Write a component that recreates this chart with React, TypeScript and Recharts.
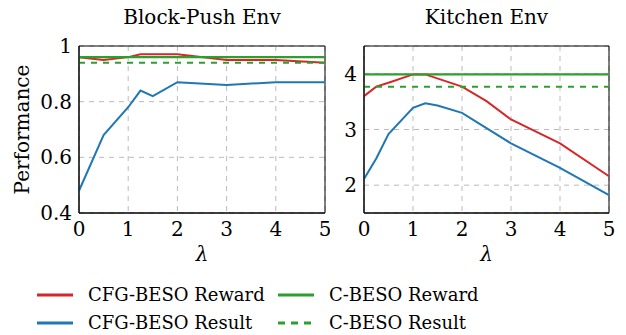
import React from "react";
import {
  LineChart,
  Line,
  XAxis,
  YAxis,
  CartesianGrid,
  ReferenceArea,
} from "recharts";

// Block-Push Env
const bpResultLambda = [0, 0.5, 1, 1.25, 1.5, 2, 3, 4, 5];
const bpResult = [0.48, 0.68, 0.78, 0.84, 0.82, 0.87, 0.86, 0.87, 0.87];
const bpRewardLambda = [0, 0.5, 1, 1.25, 2, 3, 4, 5];
const bpReward = [0.96, 0.95, 0.96, 0.97, 0.97, 0.95, 0.95, 0.94];
const bpBaseReward = 0.96;
const bpBaseResult = 0.94;

// Kitchen Env
const kRewardLambda = [0, 0.25, 0.5, 1, 1.25, 2, 2.5, 3, 4, 5];
const kReward = [3.6, 3.77, 3.84, 3.99, 3.99, 3.77, 3.51, 3.18, 2.75, 2.16];
const kResultLambda = [0, 0.25, 0.5, 1, 1.25, 1.5, 2, 3, 4, 5];
const kResult = [2.11, 2.48, 2.92, 3.39, 3.47, 3.43, 3.3, 2.75, 2.31, 1.82];
const kBaseReward = 3.99;
const kBaseResult = 3.77;

const xTicks = [0, 1, 2, 3, 4, 5];
const bpTicks = [0.4, 0.6, 0.8, 1];
const kTicks = [2, 3, 4];

const RED = "#d62728";
const BLUE = "#1f77b4";
const GREEN = "#2ca02c";
const FONT = "'DejaVu Serif', 'Liberation Serif', 'Times New Roman', Times, serif";
const FS = 20;
const LEGEND_FS = 18;

const zip = (xs: number[], ys: number[]) => xs.map((x, i) => ({ x, y: ys[i] }));
const flat = (v: number) => [
  { x: 0, y: v },
  { x: 5, y: v },
];

interface PanelProps {
  width: number;
  left: number;
  yAxisWidth: number;
  marginLeft: number;
  marginRight: number;
  domain: [number, number];
  ticks: number[];
  reward: { x: number; y: number }[];
  result: { x: number; y: number }[];
  baseReward: number;
  baseResult: number;
  yLabel?: string;
}

function Panel(p: PanelProps) {
  const tickStyle = { fontSize: FS, fill: "#000", fontFamily: FONT };
  return (
    <div style={{ position: "absolute", left: p.left, top: 0 }}>
      <LineChart
        width={p.width}
        height={275}
        margin={{ top: 46, right: p.marginRight, left: p.marginLeft, bottom: 12 }}
        style={{ fontFamily: FONT }}
      >
        <CartesianGrid stroke="#bbb" strokeDasharray="5 5" />
        <XAxis
          dataKey="x"
          type="number"
          domain={[0, 5]}
          ticks={xTicks}
          allowDuplicatedCategory={false}
          tickLine={false}
          tickSize={0}
          tickMargin={9}
          height={50}
          axisLine={{ stroke: "#000" }}
          tick={tickStyle}
          label={{
            value: "λ",
            position: "insideBottom",
            offset: 2,
            style: { fontSize: FS, fontStyle: "italic", fill: "#000", fontFamily: FONT },
          }}
        />
        <YAxis
          type="number"
          domain={p.domain}
          ticks={p.ticks}
          width={p.yAxisWidth}
          tickLine={false}
          tickSize={0}
          tickMargin={7}
          axisLine={{ stroke: "#000" }}
          tick={tickStyle}
          label={
            p.yLabel
              ? (props: any) => {
                  const vb = props.viewBox || {};
                  const cy = (vb.y || 0) + (vb.height || 0) / 2;
                  return (
                    <text
                      x={22}
                      y={cy}
                      transform={`rotate(-90, 22, ${cy})`}
                      textAnchor="middle"
                      dominantBaseline="central"
                      style={{ fontSize: FS, fill: "#000", fontFamily: FONT }}
                    >
                      {p.yLabel}
                    </text>
                  );
                }
              : undefined
          }
        />
        <ReferenceArea
          x1={0}
          x2={5}
          y1={p.domain[0]}
          y2={p.domain[1]}
          fill="none"
          stroke="#000"
          strokeWidth={1}
        />
        <Line data={p.reward} dataKey="y" stroke={RED} strokeWidth={2} dot={false} isAnimationActive={false} />
        <Line data={p.result} dataKey="y" stroke={BLUE} strokeWidth={2} dot={false} isAnimationActive={false} />
        <Line data={flat(p.baseReward)} dataKey="y" stroke={GREEN} strokeWidth={2.4} dot={false} isAnimationActive={false} />
        <Line
          data={flat(p.baseResult)}
          dataKey="y"
          stroke={GREEN}
          strokeWidth={2}
          strokeDasharray="6 6"
          dot={false}
          isAnimationActive={false}
        />
      </LineChart>
    </div>
  );
}

const legendItems = [
  { name: "CFG-BESO Reward", color: RED, dash: undefined as string | undefined, x: 37, y: 295 },
  { name: "C-BESO Reward", color: GREEN, dash: undefined as string | undefined, x: 278, y: 295 },
  { name: "CFG-BESO Result", color: BLUE, dash: undefined as string | undefined, x: 37, y: 323 },
  { name: "C-BESO Result", color: GREEN, dash: "7 6" as string | undefined, x: 278, y: 323 },
];

export default function App() {
  return (
    <div
      style={{
        position: "absolute",
        left: 0,
        top: 0,
        width: 626,
        height: 335,
        background: "#fff",
        fontFamily: FONT,
        overflow: "hidden",
      }}
    >
      <div style={{ position: "absolute", left: 79, width: 246, top: 5, textAlign: "center", fontSize: FS }}>
        Block-Push Env
      </div>
      <div style={{ position: "absolute", left: 364, width: 245, top: 5, textAlign: "center", fontSize: FS }}>
        Kitchen Env
      </div>
      <Panel
        width={330}
        left={0}
        yAxisWidth={60}
        marginLeft={19}
        marginRight={5}
        domain={[0.4, 1]}
        ticks={bpTicks}
        reward={zip(bpRewardLambda, bpReward)}
        result={zip(bpResultLambda, bpResult)}
        baseReward={bpBaseReward}
        baseResult={bpBaseResult}
        yLabel="Performance"
      />
      <Panel
        width={296}
        left={330}
        yAxisWidth={30}
        marginLeft={4}
        marginRight={17}
        domain={[1.5, 4.5]}
        ticks={kTicks}
        reward={zip(kRewardLambda, kReward)}
        result={zip(kResultLambda, kResult)}
        baseReward={kBaseReward}
        baseResult={kBaseResult}
      />
      {legendItems.map((it) => (
        <div key={it.name}>
          <svg style={{ position: "absolute", left: it.x, top: it.y - 4 }} width={38} height={8}>
            <line x1={0} y1={4} x2={36} y2={4} stroke={it.color} strokeWidth={3} strokeDasharray={it.dash} />
          </svg>
          <div
            style={{
              position: "absolute",
              left: it.x + 51,
              top: it.y - 14,
              fontSize: LEGEND_FS,
              lineHeight: "28px",
              whiteSpace: "nowrap",
            }}
          >
            {it.name}
          </div>
        </div>
      ))}
    </div>
  );
}
